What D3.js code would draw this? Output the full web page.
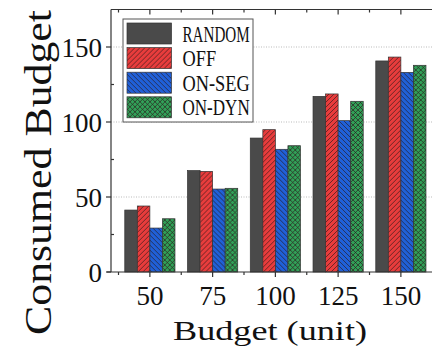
<!DOCTYPE html>
<html>
<head>
<meta charset="utf-8">
<script src="https://cdn.jsdelivr.net/npm/d3@7"></script>
<style>
  body { margin: 0; background: #fff; }
  svg { display: block; }
</style>
</head>
<body>
<svg width="432" height="348"></svg>
<script>
// budgets on the x axis
var budgets = ["50", "75", "100", "125", "150"];
var series_names = ["RANDOM", "OFF", "ON-SEG", "ON-DYN"];

// consumed budget, one array per method
var random_vals = [41.3, 67.6, 89.3, 117.1, 140.7];
var off_vals    = [44.0, 67.1, 94.9, 118.7, 143.3];
var onseg_vals  = [29.3, 55.3, 81.8, 100.9, 133.1];
var ondyn_vals  = [35.5, 55.8, 84.2, 113.8, 137.8];

var y_ticks = [0, 50, 100, 150];
var y_minor = [25, 75, 125];

var all_vals = [random_vals, off_vals, onseg_vals, ondyn_vals];
var colors = ["#4a4a4a", "#e83c3c", "#2060d8", "#31a058"];
var fills = ["#4a4a4a", "url(#hatch-off)", "url(#hatch-seg)", "url(#hatch-dyn)"];

var width = 432, height = 348;
var plot_left = 111, plot_top = 9.5, plot_bottom = 272;

const svg = d3.select("svg");

// patterns
var defs = svg.append("defs");
function hatch(id, bg, paths) {
    var p = defs.append("pattern")
        .attr("id", id)
        .attr("patternUnits", "userSpaceOnUse")
        .attr("width", 5).attr("height", 5);
    p.append("rect").attr("width", 5).attr("height", 5).attr("fill", bg);
    paths.forEach(function(d) {
        p.append("path").attr("d", d)
            .attr("stroke", "#2a1818").attr("stroke-width", 0.65).attr("fill", "none");
    });
}
hatch("hatch-off", colors[1], ["M-1,1 l2,-2 M0,5 l5,-5 M4,6 l2,-2"]);
hatch("hatch-seg", colors[2], ["M-1,4 l2,2 M0,0 l5,5 M4,-1 l2,2"]);
hatch("hatch-dyn", colors[3], ["M-1,1 l2,-2 M0,5 l5,-5 M4,6 l2,-2", "M-1,4 l2,2 M0,0 l5,5 M4,-1 l2,2"]);

// scales
var x = d3.scaleBand()
    .domain(budgets)
    .range([118.5, 432.25])
    .paddingInner(0.2)
    .paddingOuter(0.1);
var step = x.step();
var xs = d3.scaleBand()
    .domain(series_names)
    .range([0, x.bandwidth()]);
var y = d3.scaleLinear()
    .domain([0, 175])
    .range([plot_bottom, plot_top]);

// grid
svg.append("g").selectAll("line")
    .data(y_ticks.slice(1))
    .enter().append("line")
    .attr("x1", plot_left).attr("x2", width)
    .attr("y1", function(d) { return y(d); })
    .attr("y2", function(d) { return y(d); })
    .attr("stroke", "#aaa").attr("stroke-width", 0.8)
    .attr("stroke-dasharray", "1,1.5");

// bars
var groups = svg.append("g").selectAll("g")
    .data(budgets)
    .enter().append("g")
    .attr("transform", function(d) { return "translate(" + x(d) + ",0)"; });

groups.selectAll("rect")
    .data(function(d, i) {
        return series_names.map(function(s, j) { return {s: s, j: j, v: all_vals[j][i]}; });
    })
    .enter().append("rect")
    .attr("x", function(d) { return xs(d.s); })
    .attr("width", xs.bandwidth())
    .attr("y", function(d) { return y(d.v); })
    .attr("height", function(d) { return plot_bottom - y(d.v); })
    .attr("fill", function(d) { return fills[d.j]; })
    .attr("stroke", "#333")
    .attr("stroke-width", 0.7);

// axes
var ax = svg.append("g").attr("stroke", "#333").attr("stroke-width", 1.2);
ax.append("line").attr("x1", plot_left).attr("x2", plot_left).attr("y1", plot_top).attr("y2", plot_bottom);
ax.append("line").attr("x1", 107).attr("x2", width).attr("y1", plot_bottom).attr("y2", plot_bottom);
ax.append("line").attr("x1", plot_left).attr("x2", width).attr("y1", plot_top).attr("y2", plot_top);

var centers = budgets.map(function(d) { return x(d) + x.bandwidth() / 2; });
var bounds = budgets.map(function(d) { return x(d) + x.bandwidth() / 2 - step / 2; });

ax.selectAll(".xt").data(centers).enter().append("line")
    .attr("x1", function(d) { return d; }).attr("x2", function(d) { return d; })
    .attr("y1", plot_bottom).attr("y2", plot_bottom + 5);
ax.selectAll(".xm").data(bounds).enter().append("line")
    .attr("x1", function(d) { return d; }).attr("x2", function(d) { return d; })
    .attr("y1", plot_bottom).attr("y2", plot_bottom + 3);
ax.selectAll(".tt").data(centers).enter().append("line")
    .attr("x1", function(d) { return d; }).attr("x2", function(d) { return d; })
    .attr("y1", plot_top).attr("y2", plot_top + 5);
ax.selectAll(".tm").data(bounds).enter().append("line")
    .attr("x1", function(d) { return d; }).attr("x2", function(d) { return d; })
    .attr("y1", plot_top).attr("y2", plot_top + 3);
ax.selectAll(".yt").data(y_ticks).enter().append("line")
    .attr("x1", plot_left - 5).attr("x2", plot_left)
    .attr("y1", function(d) { return y(d); }).attr("y2", function(d) { return y(d); });
ax.selectAll(".ym").data(y_minor).enter().append("line")
    .attr("x1", plot_left).attr("x2", plot_left + 3)
    .attr("y1", function(d) { return y(d); }).attr("y2", function(d) { return y(d); });

// tick labels
var font = "'Liberation Serif', 'Times New Roman', serif";
svg.append("g").selectAll("text")
    .data(y_ticks).enter().append("text")
    .attr("x", 102)
    .attr("y", function(d) { return y(d) + 10; })
    .attr("text-anchor", "end")
    .attr("font-family", font).attr("font-size", 27)
    .attr("fill", "#111")
    .text(function(d) { return d; });

svg.append("g").selectAll("text")
    .data(budgets).enter().append("text")
    .attr("x", function(d) { return x(d) + x.bandwidth() / 2; })
    .attr("y", 305)
    .attr("text-anchor", "middle")
    .attr("font-family", font).attr("font-size", 27)
    .attr("fill", "#111")
    .text(function(d) { return d; });

// axis titles
svg.append("text")
    .attr("x", 270).attr("y", 340)
    .attr("text-anchor", "middle")
    .attr("font-family", font).attr("font-size", 28)
    .attr("textLength", 194).attr("lengthAdjust", "spacingAndGlyphs")
    .attr("fill", "#111")
    .text("Budget (unit)");

svg.append("text")
    .attr("transform", "translate(51,172.5) rotate(-90)")
    .attr("text-anchor", "middle")
    .attr("font-family", font).attr("font-size", 37)
    .attr("textLength", 325).attr("lengthAdjust", "spacingAndGlyphs")
    .attr("fill", "#111")
    .text("Consumed Budget");

// legend
var legend = svg.append("g");
legend.append("rect")
    .attr("x", 123).attr("y", 19).attr("width", 130).attr("height", 103)
    .attr("fill", "#fff").attr("stroke", "#555").attr("stroke-width", 1);
var rows = legend.selectAll("g.row")
    .data(series_names).enter().append("g")
    .attr("transform", function(d, i) { return "translate(0," + (23 + i * 24.6) + ")"; });
rows.append("rect")
    .attr("x", 127).attr("y", 0).attr("width", 44.5).attr("height", 21)
    .attr("fill", function(d, i) { return fills[i]; })
    .attr("stroke", "#333").attr("stroke-width", 0.7);
rows.append("text")
    .attr("x", 182.5).attr("y", 18.5)
    .attr("font-family", font).attr("font-size", 23)
    .attr("textLength", function(d) { return d.length * 11.2; })
    .attr("lengthAdjust", "spacingAndGlyphs")
    .attr("fill", "#111")
    .text(function(d) { return d; });
</script>
</body>
</html>
